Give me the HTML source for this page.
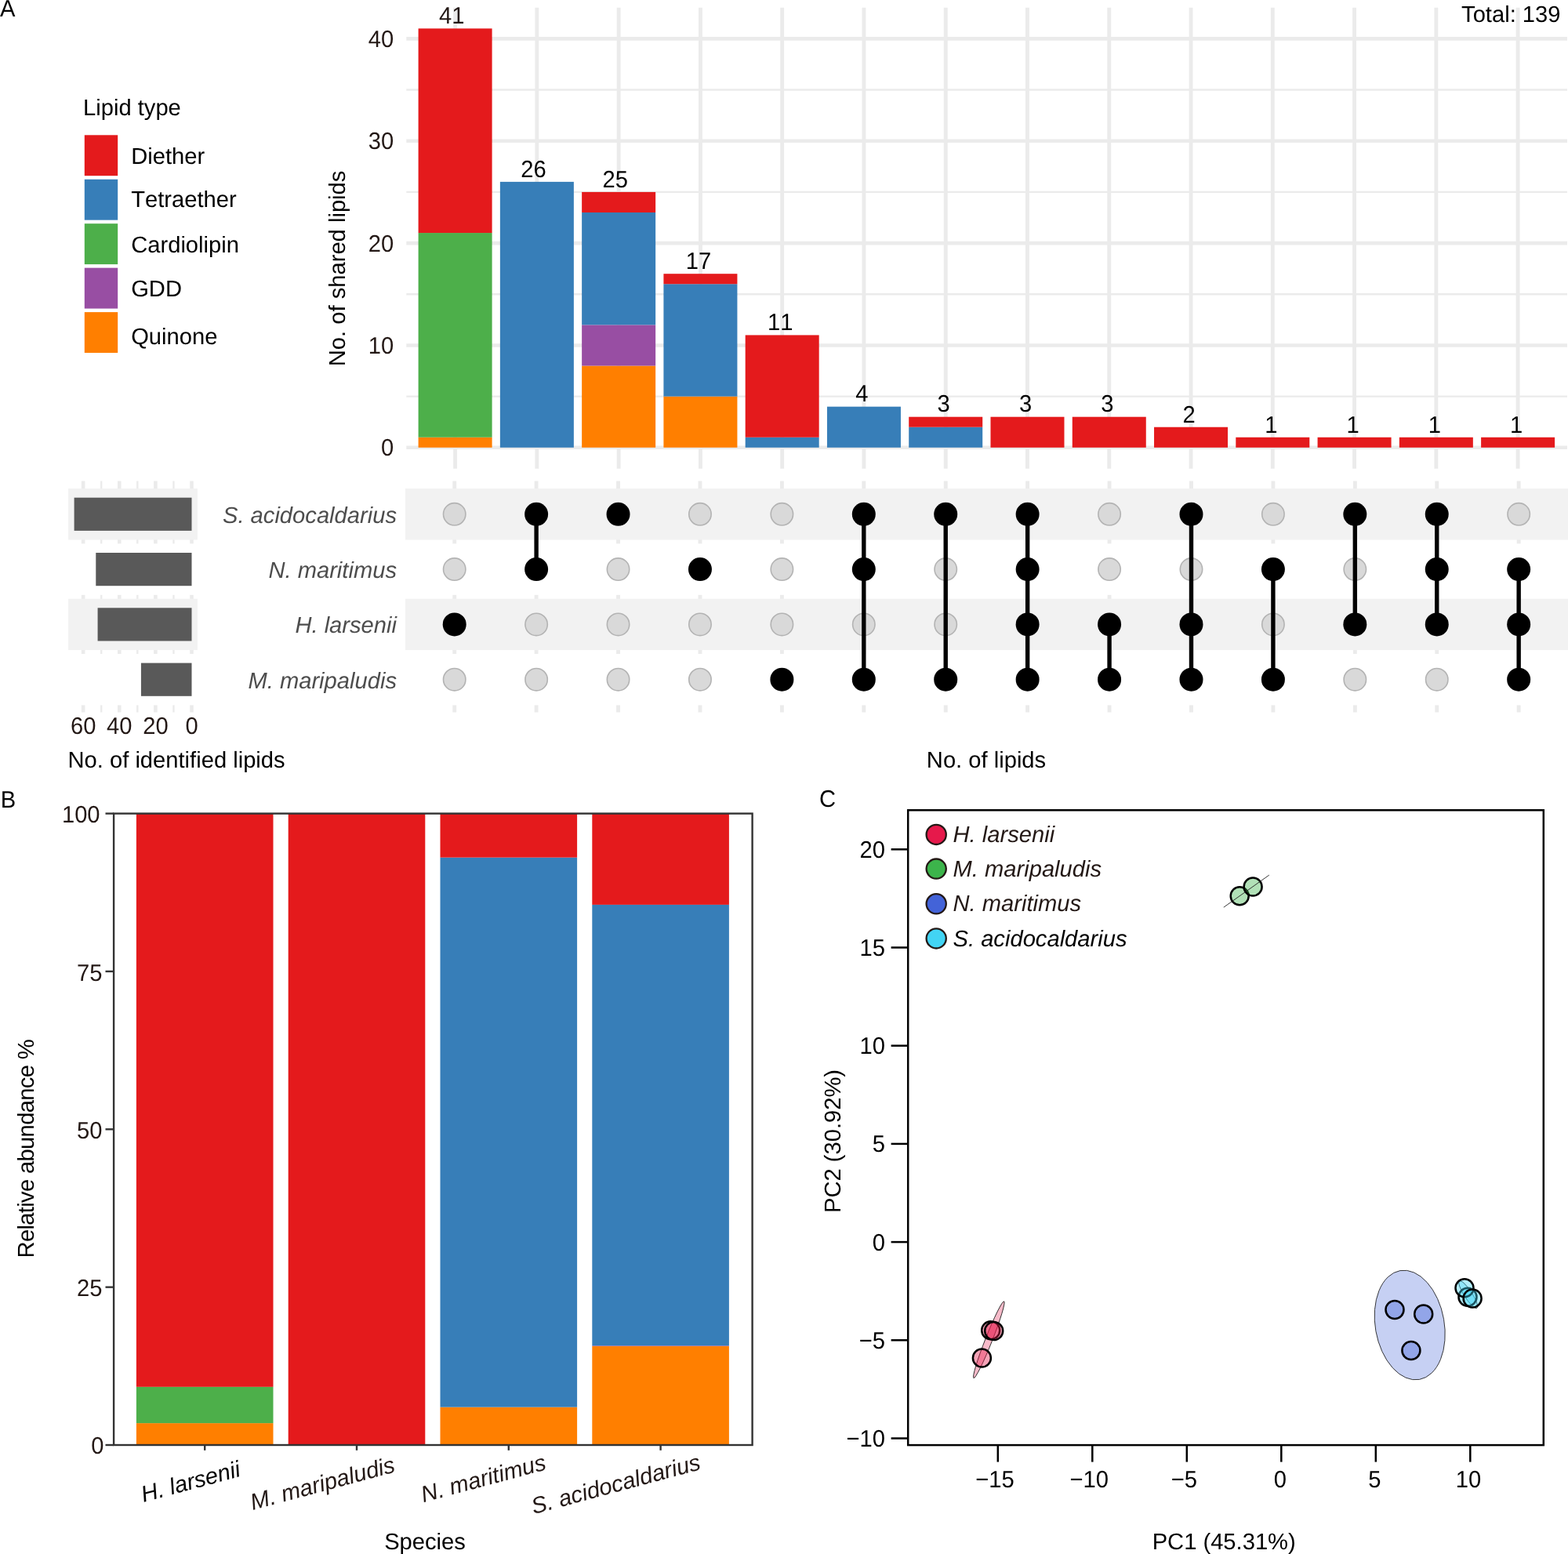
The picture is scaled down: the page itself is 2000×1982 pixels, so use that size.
<!DOCTYPE html>
<html lang="en">
<head>
<meta charset="utf-8">
<title>Archaeal lipidome figure</title>
<style>
html,body{margin:0;padding:0;background:#fff;overflow:hidden;}
svg{display:block;}
svg text{font-family:"Liberation Sans",sans-serif;font-size:29.17px;font-kerning:none;text-rendering:geometricPrecision;}
</style>
</head>
<body>
<svg width="2000" height="1982" viewBox="0 0 2000 1982">
<rect x="0" y="0" width="2000" height="1982" fill="#ffffff"/>
<line x1="518.30" y1="505.62" x2="1999.00" y2="505.62" stroke="#ebebeb" stroke-width="2.4" />
<line x1="518.30" y1="375.27" x2="1999.00" y2="375.27" stroke="#ebebeb" stroke-width="2.4" />
<line x1="518.30" y1="244.92" x2="1999.00" y2="244.92" stroke="#ebebeb" stroke-width="2.4" />
<line x1="518.30" y1="114.57" x2="1999.00" y2="114.57" stroke="#ebebeb" stroke-width="2.4" />
<line x1="518.30" y1="570.80" x2="1999.00" y2="570.80" stroke="#ebebeb" stroke-width="4.6" />
<line x1="518.30" y1="440.45" x2="1999.00" y2="440.45" stroke="#ebebeb" stroke-width="4.6" />
<line x1="518.30" y1="310.10" x2="1999.00" y2="310.10" stroke="#ebebeb" stroke-width="4.6" />
<line x1="518.30" y1="179.75" x2="1999.00" y2="179.75" stroke="#ebebeb" stroke-width="4.6" />
<line x1="518.30" y1="49.40" x2="1999.00" y2="49.40" stroke="#ebebeb" stroke-width="4.6" />
<line x1="580.60" y1="9.80" x2="580.60" y2="597.80" stroke="#ebebeb" stroke-width="4.9" />
<line x1="684.87" y1="9.80" x2="684.87" y2="597.80" stroke="#ebebeb" stroke-width="4.9" />
<line x1="789.14" y1="9.80" x2="789.14" y2="597.80" stroke="#ebebeb" stroke-width="4.9" />
<line x1="893.41" y1="9.80" x2="893.41" y2="597.80" stroke="#ebebeb" stroke-width="4.9" />
<line x1="997.68" y1="9.80" x2="997.68" y2="597.80" stroke="#ebebeb" stroke-width="4.9" />
<line x1="1101.95" y1="9.80" x2="1101.95" y2="597.80" stroke="#ebebeb" stroke-width="4.9" />
<line x1="1206.22" y1="9.80" x2="1206.22" y2="597.80" stroke="#ebebeb" stroke-width="4.9" />
<line x1="1310.49" y1="9.80" x2="1310.49" y2="597.80" stroke="#ebebeb" stroke-width="4.9" />
<line x1="1414.76" y1="9.80" x2="1414.76" y2="597.80" stroke="#ebebeb" stroke-width="4.9" />
<line x1="1519.03" y1="9.80" x2="1519.03" y2="597.80" stroke="#ebebeb" stroke-width="4.9" />
<line x1="1623.30" y1="9.80" x2="1623.30" y2="597.80" stroke="#ebebeb" stroke-width="4.9" />
<line x1="1727.57" y1="9.80" x2="1727.57" y2="597.80" stroke="#ebebeb" stroke-width="4.9" />
<line x1="1831.84" y1="9.80" x2="1831.84" y2="597.80" stroke="#ebebeb" stroke-width="4.9" />
<line x1="1936.11" y1="9.80" x2="1936.11" y2="597.80" stroke="#ebebeb" stroke-width="4.9" />
<rect x="533.60" y="557.76" width="94.00" height="13.04" fill="#ff7f00" />
<rect x="533.60" y="297.06" width="94.00" height="260.70" fill="#4daf4a" />
<rect x="533.60" y="36.36" width="94.00" height="260.70" fill="#e41a1c" />
<text transform="translate(576.30 30.16) scale(1 1.04)" text-anchor="middle" fill="#231815" >41</text>
<rect x="637.87" y="231.89" width="94.00" height="338.91" fill="#377eb8" />
<text transform="translate(680.57 225.69) scale(1 1.04)" text-anchor="middle" fill="#000" >26</text>
<rect x="742.14" y="466.52" width="94.00" height="104.28" fill="#ff7f00" />
<rect x="742.14" y="414.38" width="94.00" height="52.14" fill="#984ea3" />
<rect x="742.14" y="270.99" width="94.00" height="143.38" fill="#377eb8" />
<rect x="742.14" y="244.92" width="94.00" height="26.07" fill="#e41a1c" />
<text transform="translate(784.84 238.72) scale(1 1.04)" text-anchor="middle" fill="#000" >25</text>
<rect x="846.41" y="505.62" width="94.00" height="65.17" fill="#ff7f00" />
<rect x="846.41" y="362.24" width="94.00" height="143.38" fill="#377eb8" />
<rect x="846.41" y="349.20" width="94.00" height="13.04" fill="#e41a1c" />
<text transform="translate(890.91 343.00) scale(1 1.04)" text-anchor="middle" fill="#000" >17</text>
<rect x="950.68" y="557.76" width="94.00" height="13.04" fill="#377eb8" />
<rect x="950.68" y="427.41" width="94.00" height="130.35" fill="#e41a1c" />
<text transform="translate(995.18 421.21) scale(1 1.04)" text-anchor="middle" fill="#000" >11</text>
<rect x="1054.95" y="518.66" width="94.00" height="52.14" fill="#377eb8" />
<text transform="translate(1099.45 512.46) scale(1 1.04)" text-anchor="middle" fill="#000" >4</text>
<rect x="1159.22" y="544.73" width="94.00" height="26.07" fill="#377eb8" />
<rect x="1159.22" y="531.69" width="94.00" height="13.04" fill="#e41a1c" />
<text transform="translate(1203.72 525.49) scale(1 1.04)" text-anchor="middle" fill="#000" >3</text>
<rect x="1263.49" y="531.69" width="94.00" height="39.11" fill="#e41a1c" />
<text transform="translate(1307.99 525.49) scale(1 1.04)" text-anchor="middle" fill="#000" >3</text>
<rect x="1367.76" y="531.69" width="94.00" height="39.11" fill="#e41a1c" />
<text transform="translate(1412.26 525.49) scale(1 1.04)" text-anchor="middle" fill="#000" >3</text>
<rect x="1472.03" y="544.73" width="94.00" height="26.07" fill="#e41a1c" />
<text transform="translate(1516.53 538.53) scale(1 1.04)" text-anchor="middle" fill="#000" >2</text>
<rect x="1576.30" y="557.76" width="94.00" height="13.04" fill="#e41a1c" />
<text transform="translate(1621.30 551.56) scale(1 1.04)" text-anchor="middle" fill="#000" >1</text>
<rect x="1680.57" y="557.76" width="94.00" height="13.04" fill="#e41a1c" />
<text transform="translate(1725.57 551.56) scale(1 1.04)" text-anchor="middle" fill="#000" >1</text>
<rect x="1784.84" y="557.76" width="94.00" height="13.04" fill="#e41a1c" />
<text transform="translate(1829.84 551.56) scale(1 1.04)" text-anchor="middle" fill="#000" >1</text>
<rect x="1889.11" y="557.76" width="94.00" height="13.04" fill="#e41a1c" />
<text transform="translate(1934.11 551.56) scale(1 1.04)" text-anchor="middle" fill="#000" >1</text>
<text transform="translate(502.30 581.40) scale(1 1.04)" text-anchor="end" fill="#231815" >0</text>
<text transform="translate(502.30 451.05) scale(1 1.04)" text-anchor="end" fill="#231815" >10</text>
<text transform="translate(502.30 320.70) scale(1 1.04)" text-anchor="end" fill="#231815" >20</text>
<text transform="translate(502.30 190.35) scale(1 1.04)" text-anchor="end" fill="#231815" >30</text>
<text transform="translate(502.30 60.00) scale(1 1.04)" text-anchor="end" fill="#231815" >40</text>
<text x="440.50" y="342.40" text-anchor="middle" fill="#000" transform="rotate(-90 440.50 342.40)" >No. of shared lipids</text>
<text x="1990.50" y="28.00" text-anchor="end" fill="#000" style="font-kerning:normal">Total: 139</text>
<text x="106.00" y="147.30" text-anchor="start" fill="#000" >Lipid type</text>
<rect x="107.80" y="172.30" width="42.40" height="51.90" fill="#e41a1c" />
<text x="167.20" y="208.75" text-anchor="start" fill="#000" >Diether</text>
<rect x="107.80" y="228.75" width="42.40" height="51.90" fill="#377eb8" />
<text x="167.20" y="263.90" text-anchor="start" fill="#000" >Tetraether</text>
<rect x="107.80" y="285.20" width="42.40" height="51.90" fill="#4daf4a" />
<text x="167.20" y="321.95" text-anchor="start" fill="#000" >Cardiolipin</text>
<rect x="107.80" y="341.65" width="42.40" height="51.90" fill="#984ea3" />
<text x="167.20" y="378.10" text-anchor="start" fill="#000" >GDD</text>
<rect x="107.80" y="398.10" width="42.40" height="51.90" fill="#ff7f00" />
<text x="167.20" y="438.95" text-anchor="start" fill="#000" >Quinone</text>
<text transform="translate(0.00 20.60) scale(1 1.04)" text-anchor="start" fill="#000" >A</text>
<line x1="579.70" y1="613.50" x2="579.70" y2="908.60" stroke="#ebebeb" stroke-width="4.9" />
<line x1="684.12" y1="613.50" x2="684.12" y2="908.60" stroke="#ebebeb" stroke-width="4.9" />
<line x1="788.54" y1="613.50" x2="788.54" y2="908.60" stroke="#ebebeb" stroke-width="4.9" />
<line x1="892.96" y1="613.50" x2="892.96" y2="908.60" stroke="#ebebeb" stroke-width="4.9" />
<line x1="997.38" y1="613.50" x2="997.38" y2="908.60" stroke="#ebebeb" stroke-width="4.9" />
<line x1="1101.80" y1="613.50" x2="1101.80" y2="908.60" stroke="#ebebeb" stroke-width="4.9" />
<line x1="1206.22" y1="613.50" x2="1206.22" y2="908.60" stroke="#ebebeb" stroke-width="4.9" />
<line x1="1310.64" y1="613.50" x2="1310.64" y2="908.60" stroke="#ebebeb" stroke-width="4.9" />
<line x1="1415.06" y1="613.50" x2="1415.06" y2="908.60" stroke="#ebebeb" stroke-width="4.9" />
<line x1="1519.48" y1="613.50" x2="1519.48" y2="908.60" stroke="#ebebeb" stroke-width="4.9" />
<line x1="1623.90" y1="613.50" x2="1623.90" y2="908.60" stroke="#ebebeb" stroke-width="4.9" />
<line x1="1728.32" y1="613.50" x2="1728.32" y2="908.60" stroke="#ebebeb" stroke-width="4.9" />
<line x1="1832.74" y1="613.50" x2="1832.74" y2="908.60" stroke="#ebebeb" stroke-width="4.9" />
<line x1="1937.16" y1="613.50" x2="1937.16" y2="908.60" stroke="#ebebeb" stroke-width="4.9" />
<rect x="516.90" y="623.10" width="1483.10" height="65.40" fill="#f2f2f2" />
<rect x="516.90" y="693.40" width="1483.10" height="65.40" fill="#ffffff" />
<rect x="516.90" y="763.70" width="1483.10" height="65.40" fill="#f2f2f2" />
<rect x="516.90" y="834.00" width="1483.10" height="65.40" fill="#ffffff" />
<circle cx="579.70" cy="655.80" r="14.2" fill="#d9d9d9" stroke="#b3b3b3" stroke-width="1.6"/>
<circle cx="579.70" cy="726.10" r="14.2" fill="#d9d9d9" stroke="#b3b3b3" stroke-width="1.6"/>
<circle cx="579.70" cy="866.70" r="14.2" fill="#d9d9d9" stroke="#b3b3b3" stroke-width="1.6"/>
<circle cx="684.12" cy="796.40" r="14.2" fill="#d9d9d9" stroke="#b3b3b3" stroke-width="1.6"/>
<circle cx="684.12" cy="866.70" r="14.2" fill="#d9d9d9" stroke="#b3b3b3" stroke-width="1.6"/>
<circle cx="788.54" cy="726.10" r="14.2" fill="#d9d9d9" stroke="#b3b3b3" stroke-width="1.6"/>
<circle cx="788.54" cy="796.40" r="14.2" fill="#d9d9d9" stroke="#b3b3b3" stroke-width="1.6"/>
<circle cx="788.54" cy="866.70" r="14.2" fill="#d9d9d9" stroke="#b3b3b3" stroke-width="1.6"/>
<circle cx="892.96" cy="655.80" r="14.2" fill="#d9d9d9" stroke="#b3b3b3" stroke-width="1.6"/>
<circle cx="892.96" cy="796.40" r="14.2" fill="#d9d9d9" stroke="#b3b3b3" stroke-width="1.6"/>
<circle cx="892.96" cy="866.70" r="14.2" fill="#d9d9d9" stroke="#b3b3b3" stroke-width="1.6"/>
<circle cx="997.38" cy="655.80" r="14.2" fill="#d9d9d9" stroke="#b3b3b3" stroke-width="1.6"/>
<circle cx="997.38" cy="726.10" r="14.2" fill="#d9d9d9" stroke="#b3b3b3" stroke-width="1.6"/>
<circle cx="997.38" cy="796.40" r="14.2" fill="#d9d9d9" stroke="#b3b3b3" stroke-width="1.6"/>
<circle cx="1101.80" cy="796.40" r="14.2" fill="#d9d9d9" stroke="#b3b3b3" stroke-width="1.6"/>
<circle cx="1206.22" cy="726.10" r="14.2" fill="#d9d9d9" stroke="#b3b3b3" stroke-width="1.6"/>
<circle cx="1206.22" cy="796.40" r="14.2" fill="#d9d9d9" stroke="#b3b3b3" stroke-width="1.6"/>
<circle cx="1415.06" cy="655.80" r="14.2" fill="#d9d9d9" stroke="#b3b3b3" stroke-width="1.6"/>
<circle cx="1415.06" cy="726.10" r="14.2" fill="#d9d9d9" stroke="#b3b3b3" stroke-width="1.6"/>
<circle cx="1519.48" cy="726.10" r="14.2" fill="#d9d9d9" stroke="#b3b3b3" stroke-width="1.6"/>
<circle cx="1623.90" cy="655.80" r="14.2" fill="#d9d9d9" stroke="#b3b3b3" stroke-width="1.6"/>
<circle cx="1623.90" cy="796.40" r="14.2" fill="#d9d9d9" stroke="#b3b3b3" stroke-width="1.6"/>
<circle cx="1728.32" cy="726.10" r="14.2" fill="#d9d9d9" stroke="#b3b3b3" stroke-width="1.6"/>
<circle cx="1728.32" cy="866.70" r="14.2" fill="#d9d9d9" stroke="#b3b3b3" stroke-width="1.6"/>
<circle cx="1832.74" cy="866.70" r="14.2" fill="#d9d9d9" stroke="#b3b3b3" stroke-width="1.6"/>
<circle cx="1937.16" cy="655.80" r="14.2" fill="#d9d9d9" stroke="#b3b3b3" stroke-width="1.6"/>
<circle cx="579.70" cy="796.40" r="15" fill="#000"/>
<line x1="684.12" y1="655.80" x2="684.12" y2="726.10" stroke="#000" stroke-width="5.4" />
<circle cx="684.12" cy="655.80" r="15" fill="#000"/>
<circle cx="684.12" cy="726.10" r="15" fill="#000"/>
<circle cx="788.54" cy="655.80" r="15" fill="#000"/>
<circle cx="892.96" cy="726.10" r="15" fill="#000"/>
<circle cx="997.38" cy="866.70" r="15" fill="#000"/>
<line x1="1101.80" y1="655.80" x2="1101.80" y2="866.70" stroke="#000" stroke-width="5.4" />
<circle cx="1101.80" cy="655.80" r="15" fill="#000"/>
<circle cx="1101.80" cy="726.10" r="15" fill="#000"/>
<circle cx="1101.80" cy="866.70" r="15" fill="#000"/>
<line x1="1206.22" y1="655.80" x2="1206.22" y2="866.70" stroke="#000" stroke-width="5.4" />
<circle cx="1206.22" cy="655.80" r="15" fill="#000"/>
<circle cx="1206.22" cy="866.70" r="15" fill="#000"/>
<line x1="1310.64" y1="655.80" x2="1310.64" y2="866.70" stroke="#000" stroke-width="5.4" />
<circle cx="1310.64" cy="655.80" r="15" fill="#000"/>
<circle cx="1310.64" cy="726.10" r="15" fill="#000"/>
<circle cx="1310.64" cy="796.40" r="15" fill="#000"/>
<circle cx="1310.64" cy="866.70" r="15" fill="#000"/>
<line x1="1415.06" y1="796.40" x2="1415.06" y2="866.70" stroke="#000" stroke-width="5.4" />
<circle cx="1415.06" cy="796.40" r="15" fill="#000"/>
<circle cx="1415.06" cy="866.70" r="15" fill="#000"/>
<line x1="1519.48" y1="655.80" x2="1519.48" y2="866.70" stroke="#000" stroke-width="5.4" />
<circle cx="1519.48" cy="655.80" r="15" fill="#000"/>
<circle cx="1519.48" cy="796.40" r="15" fill="#000"/>
<circle cx="1519.48" cy="866.70" r="15" fill="#000"/>
<line x1="1623.90" y1="726.10" x2="1623.90" y2="866.70" stroke="#000" stroke-width="5.4" />
<circle cx="1623.90" cy="726.10" r="15" fill="#000"/>
<circle cx="1623.90" cy="866.70" r="15" fill="#000"/>
<line x1="1728.32" y1="655.80" x2="1728.32" y2="796.40" stroke="#000" stroke-width="5.4" />
<circle cx="1728.32" cy="655.80" r="15" fill="#000"/>
<circle cx="1728.32" cy="796.40" r="15" fill="#000"/>
<line x1="1832.74" y1="655.80" x2="1832.74" y2="796.40" stroke="#000" stroke-width="5.4" />
<circle cx="1832.74" cy="655.80" r="15" fill="#000"/>
<circle cx="1832.74" cy="726.10" r="15" fill="#000"/>
<circle cx="1832.74" cy="796.40" r="15" fill="#000"/>
<line x1="1937.16" y1="726.10" x2="1937.16" y2="866.70" stroke="#000" stroke-width="5.4" />
<circle cx="1937.16" cy="726.10" r="15" fill="#000"/>
<circle cx="1937.16" cy="796.40" r="15" fill="#000"/>
<circle cx="1937.16" cy="866.70" r="15" fill="#000"/>
<text x="506.00" y="666.70" text-anchor="end" fill="#4d4d4d" font-style="italic" >S. acidocaldarius</text>
<text x="506.00" y="737.00" text-anchor="end" fill="#4d4d4d" font-style="italic" >N. maritimus</text>
<text x="506.00" y="807.30" text-anchor="end" fill="#4d4d4d" font-style="italic" >H. larsenii</text>
<text x="506.00" y="877.60" text-anchor="end" fill="#4d4d4d" font-style="italic" >M. maripaludis</text>
<text x="1258.00" y="979.00" text-anchor="middle" fill="#000" >No. of lipids</text>
<line x1="221.44" y1="613.50" x2="221.44" y2="908.60" stroke="#ebebeb" stroke-width="2.4" />
<line x1="175.32" y1="613.50" x2="175.32" y2="908.60" stroke="#ebebeb" stroke-width="2.4" />
<line x1="129.20" y1="613.50" x2="129.20" y2="908.60" stroke="#ebebeb" stroke-width="2.4" />
<line x1="244.50" y1="613.50" x2="244.50" y2="908.60" stroke="#ebebeb" stroke-width="4.6" />
<line x1="198.38" y1="613.50" x2="198.38" y2="908.60" stroke="#ebebeb" stroke-width="4.6" />
<line x1="152.26" y1="613.50" x2="152.26" y2="908.60" stroke="#ebebeb" stroke-width="4.6" />
<line x1="106.14" y1="613.50" x2="106.14" y2="908.60" stroke="#ebebeb" stroke-width="4.6" />
<rect x="87.10" y="623.10" width="164.80" height="65.40" fill="#f2f2f2" />
<rect x="87.10" y="693.40" width="164.80" height="65.40" fill="#ffffff" />
<rect x="87.10" y="763.70" width="164.80" height="65.40" fill="#f2f2f2" />
<rect x="87.10" y="834.00" width="164.80" height="65.40" fill="#ffffff" />
<rect x="94.61" y="634.70" width="149.89" height="42.20" fill="#595959" />
<rect x="122.28" y="705.00" width="122.22" height="42.20" fill="#595959" />
<rect x="124.59" y="775.30" width="119.91" height="42.20" fill="#595959" />
<rect x="179.93" y="845.60" width="64.57" height="42.20" fill="#595959" />
<text transform="translate(244.50 935.80) scale(1 1.04)" text-anchor="middle" fill="#231815" >0</text>
<text transform="translate(198.38 935.80) scale(1 1.04)" text-anchor="middle" fill="#231815" >20</text>
<text transform="translate(152.26 935.80) scale(1 1.04)" text-anchor="middle" fill="#231815" >40</text>
<text transform="translate(106.14 935.80) scale(1 1.04)" text-anchor="middle" fill="#231815" >60</text>
<text x="86.50" y="978.60" text-anchor="start" fill="#000" >No. of identified lipids</text>
<text transform="translate(0.80 1029.50) scale(1 1.04)" text-anchor="start" fill="#000" >B</text>
<rect x="173.90" y="1815.13" width="174.60" height="27.87" fill="#ff7f00" />
<rect x="173.90" y="1768.82" width="174.60" height="46.31" fill="#4daf4a" />
<rect x="173.90" y="1037.60" width="174.60" height="731.22" fill="#e41a1c" />
<rect x="367.70" y="1037.60" width="174.60" height="805.40" fill="#e41a1c" />
<rect x="561.50" y="1794.68" width="174.60" height="48.32" fill="#ff7f00" />
<rect x="561.50" y="1093.66" width="174.60" height="701.02" fill="#377eb8" />
<rect x="561.50" y="1037.60" width="174.60" height="56.06" fill="#e41a1c" />
<rect x="755.30" y="1716.87" width="174.60" height="126.13" fill="#ff7f00" />
<rect x="755.30" y="1716.23" width="174.60" height="0.64" fill="#984ea3" />
<rect x="755.30" y="1153.90" width="174.60" height="562.33" fill="#377eb8" />
<rect x="755.30" y="1037.60" width="174.60" height="116.30" fill="#e41a1c" />
<rect x="145.10" y="1037.60" width="814.50" height="805.40" fill="none" stroke="#333333" stroke-width="2.4"/>
<line x1="134.50" y1="1843.00" x2="145.10" y2="1843.00" stroke="#333333" stroke-width="2.4" />
<text transform="translate(132.50 1854.00) scale(1 1.04)" text-anchor="end" fill="#231815" >0</text>
<line x1="134.50" y1="1641.65" x2="145.10" y2="1641.65" stroke="#333333" stroke-width="2.4" />
<text transform="translate(130.40 1652.90) scale(1 1.04)" text-anchor="end" fill="#231815" >25</text>
<line x1="134.50" y1="1440.30" x2="145.10" y2="1440.30" stroke="#333333" stroke-width="2.4" />
<text transform="translate(130.40 1452.20) scale(1 1.04)" text-anchor="end" fill="#231815" >50</text>
<line x1="134.50" y1="1238.95" x2="145.10" y2="1238.95" stroke="#333333" stroke-width="2.4" />
<text transform="translate(130.40 1251.00) scale(1 1.04)" text-anchor="end" fill="#231815" >75</text>
<line x1="134.50" y1="1037.60" x2="145.10" y2="1037.60" stroke="#333333" stroke-width="2.4" />
<text transform="translate(127.60 1048.80) scale(1 1.04)" text-anchor="end" fill="#231815" >100</text>
<line x1="261.20" y1="1843.00" x2="261.20" y2="1849.80" stroke="#333333" stroke-width="2.4" />
<text x="308.20" y="1882.40" text-anchor="end" fill="#000" font-style="italic" transform="rotate(-15 308.20 1882.40)" >H. larsenii</text>
<line x1="455.00" y1="1843.00" x2="455.00" y2="1849.80" stroke="#333333" stroke-width="2.4" />
<text x="505.40" y="1876.90" text-anchor="end" fill="#231815" font-style="italic" transform="rotate(-15 505.40 1876.90)" >M. maripaludis</text>
<line x1="648.80" y1="1843.00" x2="648.80" y2="1849.80" stroke="#333333" stroke-width="2.4" />
<text x="698.10" y="1873.90" text-anchor="end" fill="#231815" font-style="italic" transform="rotate(-15 698.10 1873.90)" >N. maritimus</text>
<line x1="842.60" y1="1843.00" x2="842.60" y2="1849.80" stroke="#333333" stroke-width="2.4" />
<text x="895.20" y="1873.70" text-anchor="end" fill="#231815" font-style="italic" transform="rotate(-15 895.20 1873.70)" >S. acidocaldarius</text>
<text x="42.80" y="1604.40" text-anchor="start" fill="#000" transform="rotate(-90 42.80 1604.40)" textLength="279" lengthAdjust="spacing">Relative abundance %</text>
<text x="542.00" y="1975.60" text-anchor="middle" fill="#000" >Species</text>
<text transform="translate(1045.00 1029.00) scale(1 1.04)" text-anchor="start" fill="#000" >C</text>
<g transform="translate(1261.3 1708.7) rotate(-68.4)"><ellipse rx="52.6" ry="4.4" fill="#e6194b" fill-opacity="0.3" stroke="#1a1a1a" stroke-width="0.8"/></g>
<g transform="translate(1798.2 1690.0) rotate(-10)"><ellipse rx="44" ry="70.5" fill="#4363d8" fill-opacity="0.3" stroke="#1a1a1a" stroke-width="0.8"/></g>
<circle cx="1252.40" cy="1732.00" r="11.5" fill="#e6194b" fill-opacity="0.4" stroke="#000" stroke-width="2.5"/>
<circle cx="1263.70" cy="1696.80" r="11.5" fill="#e6194b" fill-opacity="0.4" stroke="#000" stroke-width="2.5"/>
<circle cx="1267.70" cy="1697.60" r="11.5" fill="#e6194b" fill-opacity="0.4" stroke="#000" stroke-width="2.5"/>
<circle cx="1581.20" cy="1142.70" r="11.5" fill="#3cb44b" fill-opacity="0.4" stroke="#000" stroke-width="2.5"/>
<circle cx="1598.10" cy="1130.90" r="11.5" fill="#3cb44b" fill-opacity="0.4" stroke="#000" stroke-width="2.5"/>
<line x1="1560.8" y1="1157.2" x2="1618.8" y2="1116.1" stroke="#222" stroke-width="0.9"/>
<circle cx="1779.00" cy="1670.60" r="11.5" fill="#4363d8" fill-opacity="0.4" stroke="#000" stroke-width="2.5"/>
<circle cx="1815.70" cy="1676.10" r="11.5" fill="#4363d8" fill-opacity="0.4" stroke="#000" stroke-width="2.5"/>
<circle cx="1799.90" cy="1722.50" r="11.5" fill="#4363d8" fill-opacity="0.4" stroke="#000" stroke-width="2.5"/>
<g transform="translate(1872.7 1651.1) rotate(57.0)"><ellipse rx="20.5" ry="5.0" fill="#42d4f4" fill-opacity="0.3" stroke="#1a1a1a" stroke-width="0.8"/></g>
<circle cx="1872.00" cy="1654.30" r="11.5" fill="#42d4f4" fill-opacity="0.4" stroke="#000" stroke-width="2.5"/>
<circle cx="1868.00" cy="1642.80" r="11.5" fill="#42d4f4" fill-opacity="0.4" stroke="#000" stroke-width="2.5"/>
<circle cx="1878.10" cy="1656.10" r="11.5" fill="#42d4f4" fill-opacity="0.4" stroke="#000" stroke-width="2.5"/>
<rect x="1158.20" y="1033.30" width="810.60" height="809.80" fill="none" stroke="#000" stroke-width="2.5"/>
<line x1="1136.60" y1="1834.50" x2="1158.20" y2="1834.50" stroke="#000" stroke-width="2.5" />
<text transform="translate(1129.00 1844.90) scale(1 1.04)" text-anchor="end" fill="#000" >−10</text>
<line x1="1136.60" y1="1709.30" x2="1158.20" y2="1709.30" stroke="#000" stroke-width="2.5" />
<text transform="translate(1129.00 1719.70) scale(1 1.04)" text-anchor="end" fill="#000" >−5</text>
<line x1="1136.60" y1="1584.10" x2="1158.20" y2="1584.10" stroke="#000" stroke-width="2.5" />
<text transform="translate(1129.00 1594.50) scale(1 1.04)" text-anchor="end" fill="#000" >0</text>
<line x1="1136.60" y1="1458.90" x2="1158.20" y2="1458.90" stroke="#000" stroke-width="2.5" />
<text transform="translate(1129.00 1469.30) scale(1 1.04)" text-anchor="end" fill="#000" >5</text>
<line x1="1136.60" y1="1333.70" x2="1158.20" y2="1333.70" stroke="#000" stroke-width="2.5" />
<text transform="translate(1129.00 1344.10) scale(1 1.04)" text-anchor="end" fill="#000" >10</text>
<line x1="1136.60" y1="1208.50" x2="1158.20" y2="1208.50" stroke="#000" stroke-width="2.5" />
<text transform="translate(1129.00 1218.90) scale(1 1.04)" text-anchor="end" fill="#000" >15</text>
<line x1="1136.60" y1="1083.30" x2="1158.20" y2="1083.30" stroke="#000" stroke-width="2.5" />
<text transform="translate(1129.00 1093.70) scale(1 1.04)" text-anchor="end" fill="#000" >20</text>
<line x1="1272.80" y1="1843.10" x2="1272.80" y2="1864.60" stroke="#000" stroke-width="2.5" />
<text transform="translate(1268.90 1896.60) scale(1 1.04)" text-anchor="middle" fill="#000" >−15</text>
<line x1="1393.30" y1="1843.10" x2="1393.30" y2="1864.60" stroke="#000" stroke-width="2.5" />
<text transform="translate(1389.20 1896.60) scale(1 1.04)" text-anchor="middle" fill="#000" >−10</text>
<line x1="1513.80" y1="1843.10" x2="1513.80" y2="1864.60" stroke="#000" stroke-width="2.5" />
<text transform="translate(1510.40 1896.60) scale(1 1.04)" text-anchor="middle" fill="#000" >−5</text>
<line x1="1634.30" y1="1843.10" x2="1634.30" y2="1864.60" stroke="#000" stroke-width="2.5" />
<text transform="translate(1632.95 1896.60) scale(1 1.04)" text-anchor="middle" fill="#000" >0</text>
<line x1="1754.80" y1="1843.10" x2="1754.80" y2="1864.60" stroke="#000" stroke-width="2.5" />
<text transform="translate(1753.35 1896.60) scale(1 1.04)" text-anchor="middle" fill="#000" >5</text>
<line x1="1875.30" y1="1843.10" x2="1875.30" y2="1864.60" stroke="#000" stroke-width="2.5" />
<text transform="translate(1872.90 1896.60) scale(1 1.04)" text-anchor="middle" fill="#000" >10</text>
<text x="1561.20" y="1975.70" text-anchor="middle" fill="#000" >PC1 (45.31%)</text>
<text x="1071.60" y="1455.50" text-anchor="middle" fill="#000" transform="rotate(-90 1071.60 1455.50)" >PC2 (30.92%)</text>
<circle cx="1194.2" cy="1064.40" r="12.6" fill="#e6194b" stroke="#231815" stroke-width="2.3"/>
<text x="1215.50" y="1074.00" text-anchor="start" fill="#231815" font-style="italic" >H. larsenii</text>
<circle cx="1194.2" cy="1108.10" r="12.6" fill="#3cb44b" stroke="#231815" stroke-width="2.3"/>
<text x="1215.50" y="1117.70" text-anchor="start" fill="#231815" font-style="italic" >M. maripaludis</text>
<circle cx="1194.2" cy="1152.80" r="12.6" fill="#4363d8" stroke="#231815" stroke-width="2.3"/>
<text x="1215.50" y="1162.40" text-anchor="start" fill="#231815" font-style="italic" >N. maritimus</text>
<circle cx="1194.2" cy="1196.90" r="12.6" fill="#42d4f4" stroke="#231815" stroke-width="2.3"/>
<text x="1215.50" y="1206.50" text-anchor="start" fill="#000" font-style="italic" >S. acidocaldarius</text>
</svg>
</body>
</html>
